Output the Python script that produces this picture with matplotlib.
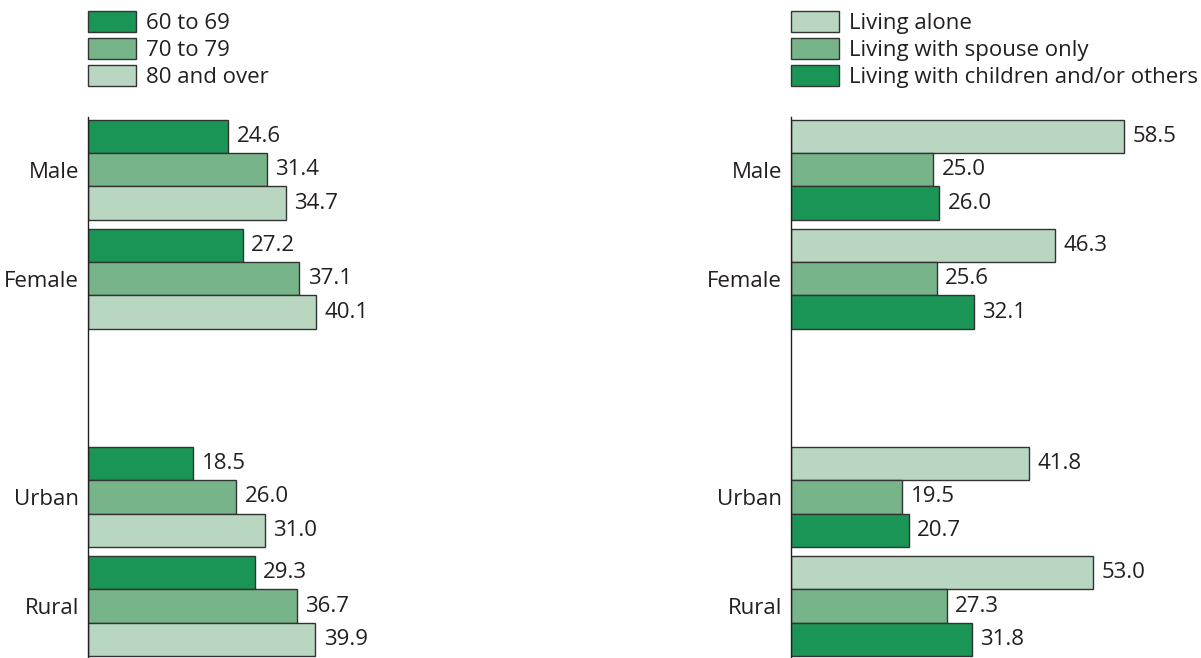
'''
Horizontal grouped bars: share of older people
by age group and by living arrangement
'''

###########################################
import numpy as np
import matplotlib.pyplot as plt

plt.rcParams['font.family'] = ['Open Sans', 'DejaVu Sans']

###########################################
# data

groups = ['Male', 'Female', 'Urban', 'Rural']
groupPos = [0, 1, 3, 4]

ageLabels = ['60 to 69', '70 to 79', '80 and over']
age60 = [24.6, 27.2, 18.5, 29.3]
age70 = [31.4, 37.1, 26.0, 36.7]
age80 = [34.7, 40.1, 31.0, 39.9]

livLabels = ['Living alone', 'Living with spouse only', 'Living with children and/or others']
livAlone = [58.5, 46.3, 41.8, 53.0]
livSpouse = [25.0, 25.6, 19.5, 27.3]
livChild = [26.0, 32.1, 20.7, 31.8]

dark = '#1b9556'
mid = '#78b48a'
light = '#b8d6c0'
edge = '#333333'
txt = '#231f20'
fs = 16


###########################################
# draw one panel

def panel(ax, series, labels, colours):
  '''three bars per group, top to bottom'''
  h = 0.303
  offs = [-h, 0.0, h]
  y0 = np.array(groupPos, dtype=float)
  for vals, lab, col, off in zip(series, labels, colours, offs):
    bars = ax.barh(y0 + off, vals, height=h, color=col, edgecolor=edge,
                   linewidth=1.0, label=lab)
    ax.bar_label(bars, labels=['%.1f' % v for v in vals], padding=6,
                 fontsize=fs, color=txt)
  ax.set_xlim(0, 70.2)
  ax.set_ylim(4.477, -0.486)
  ax.set_yticks(groupPos)
  ax.set_yticklabels(groups, fontsize=fs, color=txt)
  ax.tick_params(axis='y', length=0, pad=6.5)
  ax.set_xticks([])
  for s in ['top', 'right', 'bottom']:
    ax.spines[s].set_visible(False)
  ax.spines['left'].set_color(txt)
  ax.spines['left'].set_linewidth(1.0)
  leg = ax.legend(loc='upper left', bbox_to_anchor=(0.0, 1.196), frameon=False,
                  fontsize=fs, handlelength=2.16, handleheight=1.08,
                  handletextpad=0.45, labelspacing=0.17, borderpad=0,
                  borderaxespad=0)
  for t in leg.get_texts():
    t.set_color(txt)


###########################################
# the main block

if __name__ == '__main__':
  fig = plt.figure(figsize=(12.01, 6.58), dpi=100)
  W = 1201.0
  Hf = 658.0
  axL = fig.add_axes([88 / W, 0.0, 400 / W, (658 - 117) / Hf])
  axR = fig.add_axes([791 / W, 0.0, 400 / W, (658 - 117) / Hf])

  panel(axL, [age60, age70, age80], ageLabels, [dark, mid, light])
  panel(axR, [livAlone, livSpouse, livChild], livLabels, [light, mid, dark])

  fig.savefig('out.png', dpi=100)
  plt.close()
